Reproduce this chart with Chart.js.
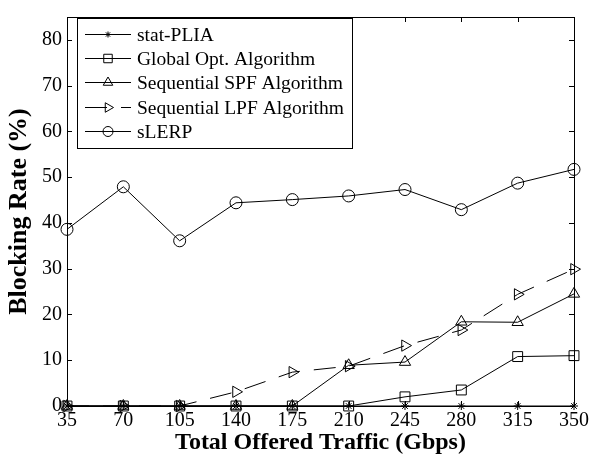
<!DOCTYPE html>
<html>
<head>
<meta charset="utf-8">
<script src="https://cdn.jsdelivr.net/npm/chart.js@4/dist/chart.umd.min.js"></script>
<style>
  html, body { margin: 0; padding: 0; background: #fff; }
  #wrap { width: 592px; height: 464px; }
</style>
</head>
<body>
<div id="wrap"><canvas id="chart" width="592" height="464"></canvas></div>
<script>
const traffic = ['35', '70', '105', '140', '175', '210', '245', '280', '315', '350'];
const yTicks = [0, 10, 20, 30, 40, 50, 60, 70, 80];

const statPlia = [0, 0, 0, 0, 0, 0, 0, 0, 0, 0];
const globalOpt = [0, 0, 0, 0, 0, 0, 2.0, 3.5, 10.8, 11.0];
const seqSpf = [0, 0, 0, 0, 0, 8.9, 9.6, 18.4, 18.3, 24.5];
const seqLpf = [0, 0, 0, 3.1, 7.4, 8.7, 13.2, 16.6, 24.4, 29.9];
const slerp = [38.6, 47.9, 36.1, 44.4, 45.1, 45.9, 47.3, 42.9, 48.7, 51.7];

const FONT = "'Liberation Serif', 'Times New Roman', serif";

function series(label, data, style, radius, extra) {
  return Object.assign({
    label,
    data,
    borderColor: '#000',
    borderWidth: 1,
    pointStyle: style,
    pointRadius: radius,
    pointBorderColor: '#000',
    pointBackgroundColor: 'rgba(0,0,0,0)',
    pointBorderWidth: 1,
    tension: 0,
    fill: false,
    clip: false,
  }, extra || {});
}

// box with inward ticks on all four sides
const boxPlugin = {
  id: 'box',
  afterDatasetsDraw(chart) {
    const { ctx, chartArea: a, scales } = chart;
    ctx.save();
    ctx.strokeStyle = '#000';
    ctx.lineWidth = 1;
    ctx.strokeRect(Math.round(a.left) + 0.5, Math.round(a.top) + 0.5,
      Math.round(a.right - a.left), Math.round(a.bottom - a.top));
    const t = 5;
    ctx.beginPath();
    scales.y.ticks.forEach((tk) => {
      const y = Math.round(scales.y.getPixelForValue(tk.value)) + 0.5;
      ctx.moveTo(a.left, y); ctx.lineTo(a.left + t, y);
      ctx.moveTo(a.right, y); ctx.lineTo(a.right - t, y);
    });
    traffic.forEach((c, i) => {
      const x = Math.round(scales.x.getPixelForValue(i)) + 0.5;
      ctx.moveTo(x, a.bottom); ctx.lineTo(x, a.bottom - t);
      ctx.moveTo(x, a.top); ctx.lineTo(x, a.top + t);
    });
    ctx.stroke();
    ctx.restore();
  },
};

// MATLAB-style legend: line sample with marker in the middle
const legendPlugin = {
  id: 'matlabLegend',
  afterDraw(chart) {
    const { ctx } = chart;
    const x0 = 77, y0 = 18, w = 275, h = 130;
    ctx.save();
    ctx.fillStyle = '#fff';
    ctx.fillRect(x0, y0, w, h);
    ctx.strokeStyle = '#000';
    ctx.lineWidth = 1;
    ctx.strokeRect(x0 + 0.5, y0 + 0.5, w, h);
    ctx.font = '19.5px ' + FONT;
    ctx.textBaseline = 'middle';
    ctx.textAlign = 'left';
    chart.data.datasets.forEach((ds, i) => {
      const y = Math.round(y0 + 16 + i * 24.2) + 0.5;
      ctx.strokeStyle = '#000';
      ctx.beginPath();
      ctx.setLineDash(ds.borderDash || []);
      ctx.moveTo(85, y);
      ctx.lineTo(131, y);
      ctx.stroke();
      ctx.setLineDash([]);
      ctx.fillStyle = 'rgba(0,0,0,0)';
      Chart.helpers.drawPoint(ctx, {
        pointStyle: ds.pointStyle,
        rotation: ds.pointRotation || 0,
        radius: ds.pointRadius - 1,
        borderWidth: 1,
      }, 108, y);
      ctx.fillStyle = '#000';
      ctx.fillText(ds.label, 137, y + 1);
    });
    ctx.restore();
  },
};

new Chart(document.getElementById('chart'), {
  type: 'line',
  data: {
    labels: traffic,
    datasets: [
      series('stat-PLIA', statPlia, 'star', 4),
      series('Global Opt. Algorithm', globalOpt, 'rect', 7),
      series('Sequential SPF Algorithm', seqSpf, 'triangle', 6.5),
      series('Sequential LPF Algorithm', seqLpf, 'triangle', 6.5, { pointRotation: 90, borderDash: [22, 14] }),
      series('sLERP', slerp, 'circle', 6),
    ],
  },
  options: {
    responsive: false,
    animation: false,
    layout: { padding: { left: 0, right: 16, top: 9, bottom: 0 } },
    plugins: {
      legend: { display: false },
      tooltip: { enabled: false },
    },
    scales: {
      x: {
        type: 'category',
        offset: false,
        grid: { display: false, drawTicks: false },
        border: { display: false },
        ticks: { color: '#000', font: { family: FONT, size: 20 }, padding: 3, maxRotation: 0, autoSkip: false },
        title: {
          display: true,
          text: 'Total Offered Traffic (Gbps)',
          color: '#000',
          font: { family: FONT, size: 24, weight: 'bold' },
          padding: { top: 0, bottom: 7 },
        },
        afterFit(scale) { scale.height = 58; },
      },
      y: {
        min: 0,
        max: 85,
        grid: { display: false, drawTicks: false },
        border: { display: false },
        ticks: { color: '#000', font: { family: FONT, size: 20 }, padding: 5 },
        afterBuildTicks(scale) { scale.ticks = yTicks.map((v) => ({ value: v })); },
        title: {
          display: true,
          text: 'Blocking Rate (%)',
          color: '#000',
          font: { family: FONT, size: 26, weight: 'bold' },
          padding: { top: 4, bottom: 0 },
        },
        afterFit(scale) { scale.width = 67; },
      },
    },
  },
  plugins: [boxPlugin, legendPlugin],
});
</script>
</body>
</html>
